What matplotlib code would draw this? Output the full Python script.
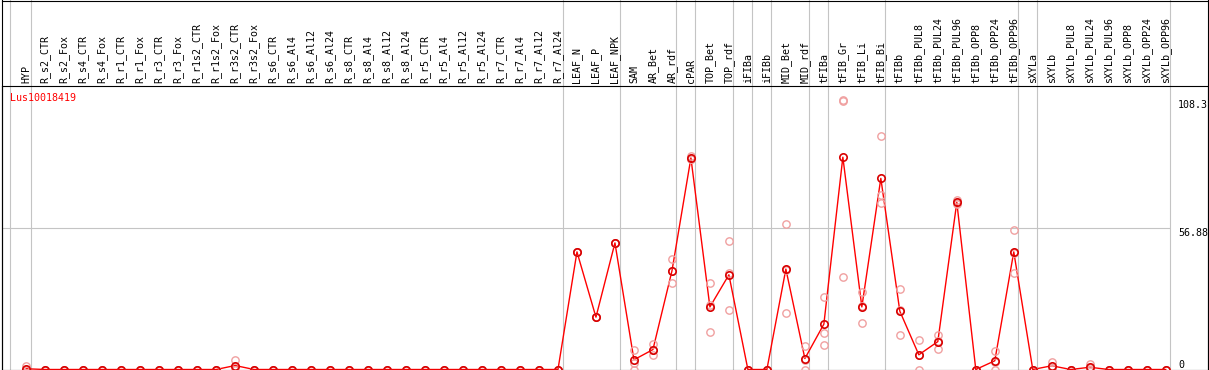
import numpy as np
import matplotlib
matplotlib.use('Agg')
import matplotlib.pyplot as plt
from matplotlib.lines import Line2D

gene = 'Lus10018419'

samples = ['HYP',
           'R_s2_CTR', 'R_s2_Fox', 'R_s4_CTR', 'R_s4_Fox', 'R_r1_CTR', 'R_r1_Fox',
           'R_r3_CTR', 'R_r3_Fox', 'R_r1s2_CTR', 'R_r1s2_Fox', 'R_r3s2_CTR', 'R_r3s2_Fox',
           'R_s6_CTR', 'R_s6_Al4', 'R_s6_Al12', 'R_s6_Al24', 'R_s8_CTR', 'R_s8_Al4',
           'R_s8_Al12', 'R_s8_Al24', 'R_r5_CTR', 'R_r5_Al4', 'R_r5_Al12', 'R_r5_Al24',
           'R_r7_CTR', 'R_r7_Al4', 'R_r7_Al12', 'R_r7_Al24',
           'LEAF_N', 'LEAF_P', 'LEAF_NPK',
           'SAM', 'AR_Bet', 'AR_rdf',
           'cPAR',
           'TOP_Bet', 'TOP_rdf',
           'iFIBa',
           'iFIBb',
           'MID_Bet', 'MID_rdf',
           'tFIBa',
           'tFIB_Gr', 'tFIB_Li', 'tFIB_Bi',
           'tFIBb', 'tFIBb_PUL8', 'tFIBb_PUL24', 'tFIBb_PUL96', 'tFIBb_OPP8',
           'tFIBb_OPP24', 'tFIBb_OPP96',
           'sXYLa',
           'sXYLb', 'sXYLb_PUL8', 'sXYLb_PUL24', 'sXYLb_PUL96', 'sXYLb_OPP8',
           'sXYLb_OPP24', 'sXYLb_OPP96']

# index of the last sample in each group (group separators)
group_ends = [-1.1, 0, 28, 31, 34, 35, 37, 38, 39, 41, 42, 45, 52, 53, 60]

# mean expression per sample
mean = [0.3,
        0, 0, 0, 0, 0, 0, 0, 0, 0, 0, 1.6, 0,
        0, 0, 0, 0, 0, 0, 0, 0, 0, 0, 0, 0, 0, 0, 0, 0,
        47.2, 21.0, 50.8,
        3.9, 8.0, 39.5,
        84.9,
        25.1, 38.0,
        0,
        0,
        40.3, 4.4,
        18.2,
        85.2, 25.1, 76.7,
        23.4, 5.9, 11.2, 67.1, 0, 3.5, 47.2,
        0,
        1.5, 0, 0.9, 0, 0, 0, 0]

# replicates
rep1 = [1.6,
        0, 0, 0, 0, 0, 0, 0, 0, 0, 0, 3.9, 0,
        0, 0, 0, 0, 0, 0, 0, 0, 0, 0, 0, 0, 0, 0, 0, 0,
        47.2, 21.0, 50.8,
        8.0, 10.2, 44.3,
        85.6,
        34.6, 51.6,
        0,
        0,
        58.5, 9.3,
        29.0,
        108.3, 31.1, 93.6,
        32.5, 12.0, 13.7, 68.0, 0, 7.3, 56.1,
        0,
        3.2, 0, 2.1, 0, 0, 0, 0]
rep2 = [0,
        0, 0, 0, 0, 0, 0, 0, 0, 0, 0, 0.9, 0,
        0, 0, 0, 0, 0, 0, 0, 0, 0, 0, 0, 0, 0, 0, 0, 0,
        47.2, 21.0, 50.8,
        2.7, 5.8, 34.6,
        84.5,
        15.0, 23.7,
        0,
        0,
        22.6, 0,
        14.8,
        107.6, 18.6, 69.9,
        14.0, 0, 8.4, 66.6, 0, 0, 38.7,
        0,
        0.8, 0, 0.6, 0, 0, 0, 0]
rep3 = [0,
        0, 0, 0, 0, 0, 0, 0, 0, 0, 0, 0, 0,
        0, 0, 0, 0, 0, 0, 0, 0, 0, 0, 0, 0, 0, 0, 0, 0,
        47.2, 21.0, 50.8,
        0, 8.0, 39.6,
        84.6,
        25.7, 38.7,
        0,
        0,
        39.8, 3.9,
        9.7,
        37.2, 25.6, 66.8,
        23.7, 5.7, 11.5, 66.7, 0, 3.2, 46.8,
        0,
        0.5, 0, 0, 0, 0, 0, 0]

y_max = 108.3
y_mid = 56.88

W, H = 1209, 370
fig = plt.figure(figsize=(W / 100, H / 100), dpi=100)
ax = fig.add_axes([1.5 / W, 1 - 369.5 / H, 1206 / W, (369.5 - 86) / H])

x = np.arange(len(samples))
ax.set_xlim(-1.3, 62.2)
ax.set_ylim(0, 2 * y_mid)

mono = 'DejaVu Sans Mono'
grey = '#c4c4c4'

# group separators run up through the header
for g in group_ends:
    ax.axvline(g + 0.24, ymin=0, ymax=1.31, color=grey, lw=0.8, clip_on=False, zorder=1)
ax.hlines(y_mid, -1.3, group_ends[-1] + 0.24, color=grey, lw=0.8, zorder=1)

ax.plot(x, mean, color='#ff0000', lw=1.0, zorder=2)
for r in (rep1, rep2, rep3):
    ax.plot(x, r, ls='none', marker='o', ms=5.3, mfc='none', mec='#f0a0a0', mew=1.0, zorder=3)
ax.plot(x, mean, ls='none', marker='o', ms=5.3, mfc='none', mec='#d80000', mew=1.2, zorder=4)

ax.xaxis.tick_top()
ax.set_xticks(x)
ax.set_xticklabels(samples, rotation=90, fontfamily=mono, fontsize=7.2)
ax.tick_params(axis='x', length=0, pad=2)
ax.set_yticks([])

for s in ax.spines.values():
    s.set_linewidth(0.8)
    s.set_color('black')

lx = 0.9755
ax.text(lx, y_max, f'{y_max:g}', transform=ax.get_yaxis_transform(), va='top', ha='left',
        fontfamily=mono, fontsize=7.2)
ax.text(lx, y_mid, f'{y_mid:g}', transform=ax.get_yaxis_transform(), va='top', ha='left',
        fontfamily=mono, fontsize=7.2)
ax.text(lx, 0, '0', transform=ax.get_yaxis_transform(), va='bottom', ha='left',
        fontfamily=mono, fontsize=7.2)
ax.text(8.5 / 1206, 0.958, gene, transform=ax.transAxes, va='center', ha='left',
        color='#ff0000', fontfamily=mono, fontsize=7.2)

# outer frame around the header
fig.add_artist(Line2D([1.5 / W, 1207.5 / W], [1 - 0.5 / H, 1 - 0.5 / H], color='black', lw=0.8))
fig.add_artist(Line2D([1.5 / W, 1.5 / W], [1 - 369.5 / H, 1], color='black', lw=0.8))
fig.add_artist(Line2D([1207.5 / W, 1207.5 / W], [1 - 369.5 / H, 1], color='black', lw=0.8))

fig.savefig('out.png', dpi=100)
